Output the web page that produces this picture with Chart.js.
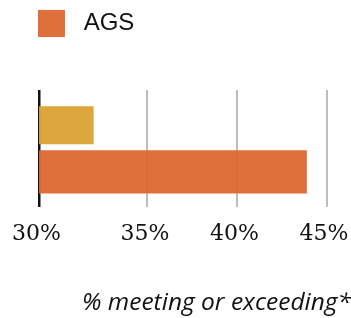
<!DOCTYPE html>
<html>
<head>
<meta charset="utf-8">
<script src="https://cdn.jsdelivr.net/npm/chart.js@4/dist/chart.umd.min.js"></script>
<style>
    html, body { margin: 0; padding: 0; background: #fff; }
    #wrap { width: 351px; height: 318px; position: relative; }
</style>
</head>
<body>
<div id="wrap"><canvas id="agsChart"></canvas></div>
<script>
// data
const CATEGORIES = ['% meeting or exceeding'];
const SERIES_NAMES = ['Comparison', 'AGS'];
const COMPARISON_VALUES = [32];
const AGS_VALUES = [43.9];
const TICK_VALUES = [28.95, 35, 40, 45]; // first tick sits on the axis start
const TICK_LABELS = ['30%', '35%', '40%', '45%'];
const AXIS_MIN = 28.95;
const AXIS_MAX = 45;

// legend sits high, leave empty room under it
const legendSpacer = {
    id: 'legendSpacer',
    beforeUpdate(chart) {
        const legend = chart.legend;
        if (!legend || legend._spaced) return;
        const fit = legend.fit;
        legend.fit = function () {
            fit.call(this);
            this.height += 43;
        };
        legend._spaced = true;
    }
};

const ctx = document.getElementById('agsChart');

// eslint-disable-next-line no-undef
new Chart(ctx, {
    type: 'bar',
    data: {
        labels: CATEGORIES,
        datasets: [
            {
                label: SERIES_NAMES[0],
                data: COMPARISON_VALUES,
                backgroundColor: 'rgba(219,162,52,0.96)',
                borderWidth: 0,
                categoryPercentage: 0.795,
                barPercentage: 0.817
            },
            {
                label: SERIES_NAMES[1],
                data: AGS_VALUES,
                backgroundColor: 'rgba(221,104,50,0.95)',
                borderWidth: 0,
                categoryPercentage: 0.795,
                barPercentage: 0.925
            }
        ]
    },
    options: {
        indexAxis: 'y',
        responsive: true,
        maintainAspectRatio: false,
        animation: false,
        layout: { padding: { left: 28, right: 0, top: 0, bottom: 0 } },
        scales: {
            x: {
                min: AXIS_MIN,
                max: AXIS_MAX,
                afterBuildTicks: (scale) => {
                    scale.ticks = TICK_VALUES.map(v => ({ value: v }));
                },
                grid: {
                    color: (c) => c.index === 0 ? '#111' : '#bdbdbd',
                    lineWidth: (c) => c.index === 0 ? 2.5 : 2,
                    drawTicks: true,
                    tickLength: 14,
                    tickColor: 'rgba(0,0,0,0)'
                },
                border: { display: false },
                ticks: {
                    padding: 0,
                    labelOffset: -2.5,
                    color: '#111',
                    font: { family: 'DejaVu Serif', size: 22 },
                    maxRotation: 0,
                    autoSkip: false,
                    callback: (value, index) => TICK_LABELS[index]
                }
            },
            y: {
                display: true,
                grid: { display: false },
                border: { display: false },
                ticks: { display: false },
                afterFit: (scale) => { scale.width = 11; }
            }
        },
        plugins: {
            legend: {
                position: 'top',
                align: 'start',
                labels: {
                    boxWidth: 27,
                    boxHeight: 27,
                    padding: 10,
                    color: '#111',
                    font: { family: 'Liberation Sans', size: 24 },
                    filter: (item) => item.datasetIndex === 1,
                    generateLabels: (chart) => {
                        // eslint-disable-next-line no-undef
                        const items = Chart.defaults.plugins.legend.labels.generateLabels(chart);
                        return items.map(it => ({ ...it, text: ' ' + it.text, lineWidth: 0 }));
                    }
                }
            },
            title: {
                display: true,
                position: 'bottom',
                align: 'end',
                text: '% meeting or exceeding*',
                color: '#111',
                font: { family: 'Open Sans', size: 24.5, style: 'italic', weight: 'normal' },
                padding: { top: 41, bottom: 0 }
            },
            tooltip: { enabled: false }
        }
    },
    plugins: [legendSpacer]
});
</script>
</body>
</html>
